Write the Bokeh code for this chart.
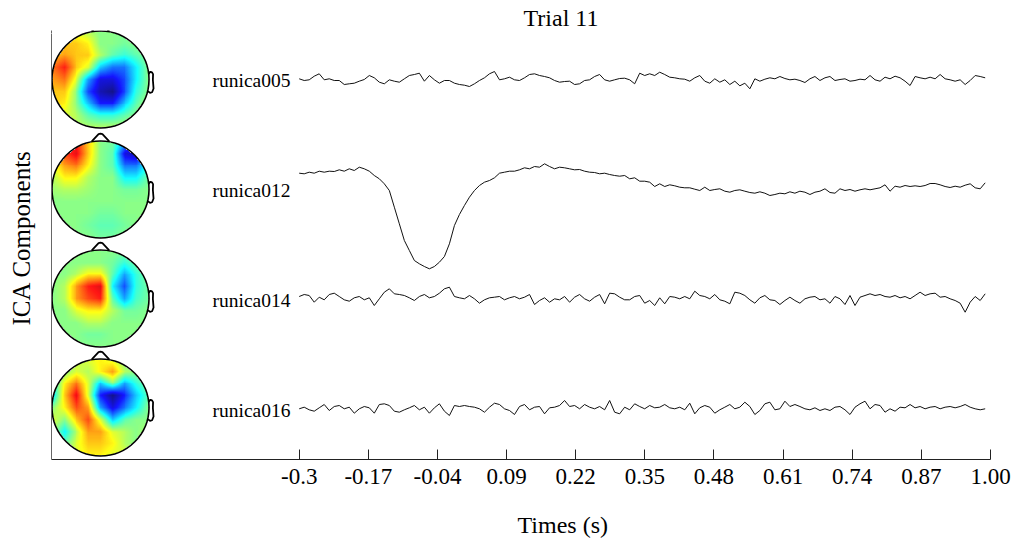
import numpy as np
from bokeh.plotting import figure
from bokeh.models import (FixedTicker, LinearColorMapper, LinearAxis, Title,
                          CustomJSTickFormatter)
from bokeh.core.properties import value
from bokeh.embed import file_html
from bokeh.resources import INLINE

# ---------------- data ----------------
title_text = "Trial 11"
x_label_text = "Times (s)"
y_label_text = "ICA Components"
component_names = ["runica005", "runica012", "runica014", "runica016"]
tick_values = [-0.3, -0.17, -0.04, 0.09, 0.22, 0.35, 0.48, 0.61, 0.74, 0.87, 1.00]
tick_labels = ["-0.3", "-0.17", "-0.04", "0.09", "0.22", "0.35", "0.48", "0.61", "0.74", "0.87", "1.00"]
t_start, t_end = -0.3, 0.99

runica005 = [1.7, 0, 0.7, 4.3, 6.7, 0.7, 1.7, 0, 0, -4, -3.3, -2.7, -0.7, 1, 5, 2.7, -1.7, -3.3, 0.7, -0.7,
             -1.7, 1.7, 5, 6, 7.3, -0.7, 5, 0.7, -2.7, 0, 0, -2.7, -4, -4.7, -6, -3.3, 0, 2.7, 6.7, 9,
             0.7, 1.7, 3.3, 0.7, 0, 2.7, 6, 6.7, 5, 4, 2.7, 0, -1.7, -1, -0.7, -4, -3.3, 0, 0.7, 4, 6,
             0.7, -0.7, 0.7, 2, 2.3, 0.7, -3.3, 7.3, 5, 6.7, 5, 8.3, 6, 3.3, 2.7, 1.7, 1.3, -0.7, 2.7, 5,
             -0.7, -2.7, 1.7, -1.7, 0.7, -4, -0.7, -5.3, -2.7, -8.3, 1.7, -0.7, 1.3, 2.7, 1.7, 4, 2, 0.7, 1.3, 0,
             -2, 1.7, 4, 0, 2.7, 4, 0, 1, 1.7, -0.7, 0, 1.3, 0.7, 5, 0.7, -0.7, 3.3, 1.7, 4.3, 2.7,
             -0.7, -5, 4, 2.7, 1.7, 3.3, 1.7, 6, 1.7, 0.7, -0.7, 0.7, -4, 0, 5, 4, 2.7]
runica012 = [17.3, 16.7, 18.3, 17.3, 19.3, 18.3, 19.3, 19, 20.7, 19.3, 21.7, 20, 23.3, 21.7, 19.3, 15, 11.7, 6.7, 0, -16.7,
             -33.3, -50, -60, -70, -73.3, -76, -78.3, -76, -71.7, -66, -53.3, -35, -24, -15, -6.7, 0, 5, 8.3, 10, 12.7,
             17.3, 18.3, 19.3, 19.3, 20.7, 22.7, 21.7, 24, 23.3, 26.7, 24, 21.7, 23.3, 22.7, 21.7, 20.7, 21, 19.3, 18.3, 18,
             16.7, 17.3, 16, 15, 14.3,
             15, 11.7, 12.7, 9.3, 9.3, 8.3, 4, 6.7, 4, 5.7, 4.7, 3.3, 2.7, 2.7, 1.3, 0, 3.3, 0, 1, 1.7,
             -0.7, -1.7, 0, 0.7, -0.7, -2, -2.7, -1.3, -2.7, -5, -4, -2.7, -3.3, -1.3, -2.7, -0.7, -1.7, -4, -1.7, -0.7,
             1.7, -2, -2.7, 1.7, 0, 1, -0.7, 0.7, 1.7, 0.7, 1.7, 2.7, 5.7, -0.7, 4.3, 3.3, 5, 4, 4.7, 4,
             5, 7, 7, 5.7, 4, 3, 4.3, 3.3, 5.3, 6.7, 2.7, 1.7, 7.7]
runica014 = [4, 6, 5, -1.7, 3.3, 0.7, 6, 7.3, 4, 0.7, -0.7, 2.7, 4, 0.7, 2.7, -5, 1.7, 8.3, 11.7, 6.7,
             6, 5, 2.7, 0, 4, 6, 2.7, 4, 7.3, 11.7, 13.3, 4, 2.7, 1.7, 5, 1.7, -2.7, 0.7, 2.7, 3.3,
             4, 0.7, 2.7, 4, 1.7, 3.3, 6, -4, 0, 2.7, -1.7, 1.7, 0.7, 4, -1.7, 3.3, 6, 1.7, -0.7, 3.3, 6,
             -3.3, 7.3, 6.7, 3.3, 0.7, 0.7, 4, 5, -2.7, 0, -5, 2.7, -3.3, 4, 3.3, 1.7, 4, 1.7, 9.3, 5,
             4, 1.7, 6, 0.7, -0.7, -3.3, 8.3, 7.3, 5, 0.7, -2.7, 2.7, 5, 0.7, 0, -4, 0, 3.3, 0, -2.7,
             1.7, 3.3, 4, 0.7, 1.7, -2.7, 4, 1.7, -4, 5, -5, 3.3, 5, 6.7, 5, 6, 4, 3.3, 5, 2.7,
             4, 1.7, 5, 8.3, 5, 6.7, 7.3, 3.3, 4, 1.7, 0, -2.7, -11.7, -1.7, 4, 0, 6.7]
runica016 = [1.7, 3.3, 0.7, -0.7, 2.7, 6, 0, 4, 5, 1.7, 3.3, -2.7, 1.7, 4, 2.7, -2.7, 6, 6.7, 5, -0.7,
             -1.7, 0.7, 2.7, 5, 0.7, 3.3, -2.7, 2.7, 6.7, -0.7, -5, 5, 4, 5, 4, 3.3, 1.7, -1.7, 3.3, 7.3,
             6, 1.7, 0, -4, 4, 6, 0.7, 3.3, 4, -3.3, 2.7, 3.3, 5, 10, 4, 5, 1.7, 6, 3.3, 1.7, 4,
             0.7, 10, -1.7, -3.3, 3.3, 0.7, 6.7, 4, 1.7, 5, 2.7, 3.3, 6, 2.7, 1.7, 3.3, 0.7, 7.3, -3.3, 2.7,
             5, 3.3, -2.7, 0.7, 3.3, 6, 1.7, 3.3, 8.3, 4, -4, 0, 6.7, 8.3, 0.7, 1.7, 9.3, 4, 6, 4,
             1.7, 0.7, 2.7, 0, 1.7, 0, 3.3, 4, 0.7, -4, 3.3, 6.7, 9.3, 1.7, 6, 5, -1.7, 1.7, -0.7, 3.3,
             2.7, 6, 2.7, 4, 1.7, 3.3, 4, 1.7, 3.3, 4, 2.7, 4, 6, 3.3, 1.7, 0.7, 1.7]
traces = [runica005, runica012, runica014, runica016]

# scalp map weights (rows: front -> back, cols: left -> right)
topo005 = [[0.2, 0.3, 0.3, 0.2, 0.1, 0.1, 0.1, 0.1, 0.1],
           [0.4, 0.5, 0.5, 0.4, 0.1, 0.1, 0.05, 0.1, 0.1],
           [0.5, 0.6, 0.5, 0.5, 0.2, 0.0, -0.1, 0.0, 0.1],
           [0.7, 0.9, 0.5, 0.3, -0.3, -0.5, -0.5, -0.2, 0.1],
           [0.6, 0.7, 0.3, -0.4, -0.8, -0.8, -0.6, -0.2, 0.1],
           [0.5, 0.5, 0.1, -0.6, -0.9, -1.0, -0.6, -0.1, 0.1],
           [0.5, 0.4, 0.1, -0.3, -0.7, -0.7, -0.3, 0.0, 0.2],
           [0.3, 0.3, 0.2, 0.0, -0.1, -0.1, 0.0, 0.1, 0.2],
           [0.3, 0.3, 0.2, 0.2, 0.2, 0.2, 0.2, 0.2, 0.2]]
topo012 = [[0.3, 0.7, 0.9, 0.5, 0.1, 0.05, -0.3, -0.6, -0.2],
           [0.4, 0.8, 1.0, 0.5, 0.1, 0.0, -0.8, -0.9, -0.3],
           [0.3, 0.6, 0.7, 0.4, 0.1, 0.0, -0.5, -0.5, -0.1],
           [0.2, 0.4, 0.4, 0.2, 0.1, 0.1, -0.2, -0.2, 0.05],
           [0.15, 0.2, 0.2, 0.15, 0.1, 0.1, 0.05, 0.05, 0.1],
           [0.1, 0.1, 0.1, 0.1, 0.1, 0.1, 0.1, 0.1, 0.1],
           [0.1, 0.1, 0.1, 0.1, 0.05, 0.05, 0.1, 0.1, 0.1],
           [0.1, 0.1, 0.1, 0.05, 0.0, 0.0, 0.05, 0.1, 0.1],
           [0.1, 0.1, 0.1, 0.1, 0.05, 0.05, 0.1, 0.1, 0.1]]
topo014 = [[0.1, 0.1, 0.1, 0.1, 0.1, 0.1, 0.1, 0.1, 0.1],
           [0.1, 0.1, 0.1, 0.1, 0.1, 0.05, -0.1, 0.05, 0.1],
           [0.1, 0.1, 0.2, 0.4, 0.4, 0.0, -0.4, -0.1, 0.1],
           [0.1, 0.2, 0.6, 0.9, 1.0, -0.2, -0.6, -0.1, 0.05],
           [0.1, 0.2, 0.6, 0.8, 0.9, 0.0, -0.4, -0.05, 0.05],
           [0.1, 0.1, 0.3, 0.4, 0.4, 0.2, 0.05, 0.05, 0.1],
           [0.1, 0.1, 0.1, 0.2, 0.2, 0.1, 0.1, 0.1, 0.1],
           [0.1, 0.1, 0.1, 0.05, 0.05, 0.1, 0.1, 0.1, 0.1],
           [0.1, 0.1, 0.1, 0.1, 0.1, 0.1, 0.1, 0.1, 0.1]]
topo016 = [[0.1, 0.1, 0.2, 0.3, 0.4, 0.3, 0.1, 0.1, 0.1],
           [0.0, 0.1, 0.3, 0.2, 0.4, 0.6, 0.2, 0.1, 0.1],
           [-0.2, 0.4, 0.7, 0.3, -0.3, 0.1, -0.4, -0.1, 0.1],
           [-0.3, 0.5, 1.0, 0.3, -0.7, -1.0, -0.7, -0.3, 0.0],
           [0.1, 0.4, 0.8, 0.6, -0.4, -0.8, -0.5, -0.2, 0.1],
           [0.3, 0.1, 0.5, 0.8, 0.3, -0.3, 0.0, 0.1, 0.1],
           [0.2, -0.2, 0.2, 0.6, 0.6, 0.3, 0.2, 0.1, 0.2],
           [0.2, 0.0, 0.3, 0.5, 0.5, 0.4, 0.2, 0.1, 0.2],
           [0.2, 0.3, 0.3, 0.4, 0.4, 0.3, 0.3, 0.2, 0.2]]
topos = [topo005, topo012, topo014, topo016]

# ---------------- layout helpers ----------------
W, H = 1013, 539
FL, FR, FT, FB = 51, 990, 30, 459          # frame edges in pixels
px_tick0 = 298.7                            # pixel of t = -0.3
x_hi = 1.0
ppx = (FR - px_tick0) / (x_hi - (-0.3))     # pixels per second
x_lo = -0.3 - (px_tick0 - FL) / ppx
ppy = 110.0                                 # pixels per channel spacing
y_hi = 4 + (80 - FT) / ppy
y_lo = y_hi - (FB - FT) / ppy


def X(px):
    return x_lo + (px - FL) / ppx


def Y(py):
    return y_hi - (py - FT) / ppy


chan_y = [4, 3, 2, 1]
head_py = [79, 189, 298, 407]
amp_scale = 1.0 / ppy


def jet_palette(n=256, fade=0.08):
    out = []
    for x in np.linspace(0, 1, n):
        r = np.clip(1.5 - abs(4 * x - 3), 0, 1)
        g = np.clip(1.5 - abs(4 * x - 2), 0, 1)
        b = np.clip(1.5 - abs(4 * x - 1), 0, 1)
        r, g, b = [c * (1 - fade) + fade for c in (r, g, b)]
        out.append("#%02x%02x%02x" % (int(r * 255), int(g * 255), int(b * 255)))
    return out


def smooth_map(grid, n=99):
    g = np.array(grid, dtype=float)
    m = g.shape[0]
    src = np.linspace(-1, 1, m)
    dst = np.linspace(-1, 1, n)
    tmp = np.array([np.interp(dst, src, row) for row in g])
    out = np.array([np.interp(dst, src, tmp[:, j]) for j in range(n)]).T
    xx, yy = np.meshgrid(dst, dst)
    out[xx ** 2 + yy ** 2 > 1.0] = np.nan
    return np.flipud(out)


p = figure(width=W, height=H, output_backend="svg", toolbar_location=None,
           x_range=(x_lo, x_hi), y_range=(y_lo, y_hi),
           min_border_left=FL, min_border_right=W - FR,
           min_border_top=FT, min_border_bottom=H - FB)
p.outline_line_color = None
p.grid.visible = False
p.background_fill_color = "white"
p.border_fill_color = "white"

serif = "Liberation Serif"
blank = CustomJSTickFormatter(code="return ''")

# title
p.title.text = title_text
p.title.align = "left"
p.title.offset = 472
p.title.standoff = 0
p.title.text_font = serif
p.title.text_font_size = "24px"
p.title.text_font_style = "normal"
p.title.text_color = "black"

# x axis
p.xaxis.ticker = FixedTicker(ticks=tick_values)
p.xaxis.major_label_overrides = {v: l for v, l in zip(tick_values, tick_labels)}
p.xaxis.major_tick_in = 10
p.xaxis.major_tick_out = 0
p.xaxis.minor_tick_line_color = None
p.xaxis.axis_line_color = "#222222"
p.xaxis.major_tick_line_color = "#222222"
p.xaxis.major_label_text_font = serif
p.xaxis.major_label_text_font_size = "23px"
p.xaxis.major_label_text_color = "black"
p.xaxis.major_label_standoff = 9

# blank spacer axis (one white tick near the left edge), then the x label as a title
spacer = LinearAxis(ticker=FixedTicker(ticks=[X(56)]), formatter=blank,
                    axis_line_color=None, major_tick_line_color="white",
                    minor_tick_line_color=None, major_tick_in=0, major_tick_out=25,
                    major_label_standoff=0, major_label_text_font_size="0px")
p.add_layout(spacer, "below")
p.add_layout(Title(text=x_label_text, align="left", offset=466, standoff=0,
                   vertical_align="top", text_font=serif, text_font_size="24px",
                   text_font_style="normal", text_color="black"), "below")

# y axis: the line only; one white tick near the top reserves space for the label
p.yaxis.ticker = FixedTicker(ticks=[Y(33)])
p.yaxis.formatter = blank
p.yaxis.major_tick_line_color = "white"
p.yaxis.minor_tick_line_color = None
p.yaxis.major_tick_in = 0
p.yaxis.major_tick_out = 17
p.yaxis.major_label_standoff = 0
p.yaxis.major_label_text_font_size = "0px"
p.yaxis.axis_line_color = "#666666"
p.add_layout(Title(text=y_label_text, align="left", offset=134, standoff=0,
                   vertical_align="bottom", text_font=serif, text_font_size="25px",
                   text_font_style="normal", text_color="black"), "left")

# scalp maps
mapper = LinearColorMapper(palette=jet_palette(), low=-1.0, high=1.2, nan_color=(0, 0, 0, 0))
r_px = 48.5
hx_px = 100
rx = r_px / ppx
ry = r_px / ppy
hx = X(hx_px)

ear_x = np.array([.497, .510, .518, .5299, .5419, .54, .547, .532, .510, .489]) * 2
ear_y = np.array([.0555, .0775, .0783, .0746, .0555, -.0055, -.0932, -.1313, -.1384, -.1199]) * 2
nose_x = np.array([0.09, 0.02, 0.0, -0.02, -0.09]) * 2
nose_y = np.array([0.4954, 0.570, 0.575, 0.570, 0.4954]) * 2

for topo, hpy in zip(topos, head_py):
    cy = Y(hpy)
    img = smooth_map(topo)
    p.image(image=[img], x=hx - rx, y=cy - ry, dw=2 * rx, dh=2 * ry, color_mapper=mapper)
    p.ellipse(x=hx, y=cy, width=2 * rx, height=2 * ry, fill_color=None,
              line_color="black", line_width=1.6)
    xs = [list(hx + ear_x * rx), list(hx + nose_x * rx)]
    ys = [list(cy + ear_y * ry), list(cy + nose_y * ry)]
    p.multi_line(xs=xs, ys=ys, line_color="black", line_width=1.8)

# traces
for vals, cy in zip(traces, chan_y):
    t = np.linspace(t_start, t_end, len(vals))
    p.line(t, cy + np.array(vals) * amp_scale, line_color="#111111", line_width=1)

# component names
p.text(x=[X(290)] * 4, y=chan_y, text=component_names, text_align="right",
       text_baseline="middle", text_font=value(serif),
       text_font_size="19.5px", text_color="black")

open("out.html", "w").write(file_html(p, INLINE))
